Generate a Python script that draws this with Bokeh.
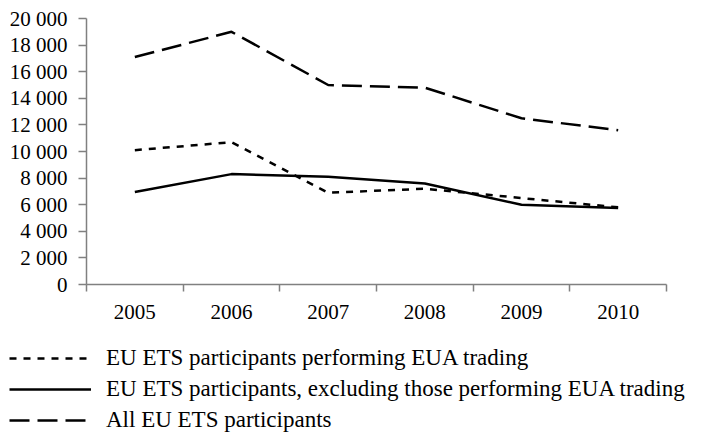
from bokeh.plotting import figure
from bokeh.layouts import column
from bokeh.models import Range1d, FixedTicker, Legend, LegendItem
from bokeh.embed import file_html
from bokeh.resources import INLINE

# ---- data ----
years = ["2005", "2006", "2007", "2008", "2009", "2010"]
trading = [10100, 10700, 6900, 7200, 6500, 5800]
non_trading = [6950, 8300, 8100, 7600, 6000, 5750]
all_participants = [17100, 19000, 15000, 14800, 12500, 11600]
y_ticks = [0, 2000, 4000, 6000, 8000, 10000, 12000, 14000, 16000, 18000, 20000]
series_labels = [
    "EU ETS participants performing EUA trading",
    "EU ETS participants, excluding those performing EUA trading",
    "All EU ETS participants",
]

FONT = "Liberation Serif"
AXIS_COLOR = "#808080"
W = 699
STYLES = [
    dict(line_color="black", line_width=2.5, line_dash="7 7"),
    dict(line_color="black", line_width=2.5),
    dict(line_color="black", line_width=2.5, line_dash="20 8"),
]
SERIES = [trading, non_trading, all_participants]

xs = [i + 0.5 for i in range(len(years))]
boundaries = list(range(len(years) + 1))

# ---- main chart ----
p = figure(
    width=W, height=340,
    output_backend="svg", toolbar_location=None,
    x_range=Range1d(0, len(years)), y_range=Range1d(0, y_ticks[-1]),
    min_border_left=86, min_border_right=33, min_border_top=18, min_border_bottom=56,
)
p.frame_align = False
p.outline_line_color = None
p.xgrid.visible = False
p.ygrid.visible = False

for ys, st in zip(SERIES, STYLES):
    p.line(xs, ys, **st)

xa = p.xaxis[0]
xa.ticker = FixedTicker(ticks=xs, minor_ticks=boundaries)
xa.major_label_overrides = {x: y for x, y in zip(xs, years)}
xa.major_tick_out = 0
xa.major_tick_in = 0
xa.minor_tick_out = 7
xa.minor_tick_in = 0
xa.minor_tick_line_color = AXIS_COLOR
xa.minor_tick_line_width = 1.5
xa.axis_line_color = AXIS_COLOR
xa.axis_line_width = 1.5
xa.major_label_text_font = FONT
xa.major_label_text_font_size = "21px"
xa.major_label_text_color = "black"
xa.major_label_standoff = 13

ya = p.yaxis[0]
ya.ticker = FixedTicker(ticks=y_ticks, minor_ticks=[])
ya.major_label_overrides = {t: f"{t:,}".replace(",", " ") for t in y_ticks}
ya.major_tick_out = 8
ya.major_tick_in = 0
ya.major_tick_line_color = AXIS_COLOR
ya.major_tick_line_width = 1.5
ya.minor_tick_out = 0
ya.minor_tick_in = 0
ya.axis_line_color = AXIS_COLOR
ya.axis_line_width = 1.5
ya.major_label_text_font = FONT
ya.major_label_text_font_size = "21px"
ya.major_label_text_color = "black"
ya.major_label_standoff = 11

# ---- legend panel (same series, drawn outside its view; only the legend shows) ----
lg = figure(
    width=W, height=93,
    output_backend="svg", toolbar_location=None,
    x_range=Range1d(-2, -1), y_range=Range1d(-2, -1),
    x_axis_location=None, y_axis_location=None,
    min_border=0,
)
lg.frame_align = False
lg.outline_line_color = None
lg.xgrid.visible = False
lg.ygrid.visible = False
items = []
for ys, st, lab in zip(SERIES, STYLES, series_labels):
    r = lg.line(xs, ys, **st)
    items.append(LegendItem(label=lab, renderers=[r]))

legend = Legend(
    items=items,
    location=(9, 0),
    orientation="vertical",
    padding=0, margin=0,
    border_line_color=None,
    background_fill_alpha=0,
    glyph_width=82, glyph_height=22,
    label_height=22, spacing=5,
    label_standoff=15,
    label_text_font=FONT,
    label_text_font_size="23px",
    label_text_color="black",
)
lg.add_layout(legend, "center")

page = column(p, lg, spacing=0)
open("out.html", "w").write(file_html(page, INLINE))
